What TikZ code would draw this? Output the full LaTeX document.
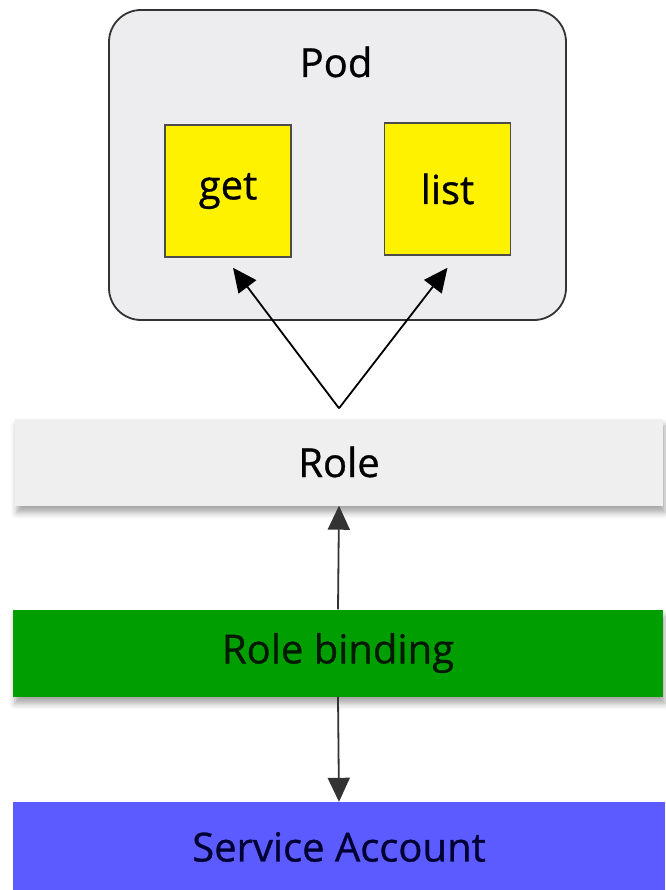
\documentclass[tikz,border=0pt]{standalone}
\usepackage{fontspec}
\setmainfont{Open Sans}[FakeBold=0.8]
\usetikzlibrary{
  positioning
  , calc
  , arrows.meta
  , shadows.blur
}

\definecolor{podgray}{HTML}{EDEDEF}
\definecolor{rolegray}{HTML}{EFEFEF}
\definecolor{bindgreen}{HTML}{009E00}
\definecolor{accblue}{HTML}{5B5BFF}

\begin{document}
\begin{tikzpicture}[x=1pt, y=-1pt]
      \tikzstyle{bar template}=[minimum height=87pt, inner sep=0pt, font=\fontsize{40}{44}\selectfont]
      \tikzstyle{verb template}=[draw=black!70, line width=1.5pt, fill=yellow, minimum width=126pt, minimum height=132pt, inner sep=0pt, font=\fontsize{40}{44}\selectfont]
      \tikzstyle{link}=[line width=1.8pt, -{Triangle[length=24pt, width=22pt]}]

      \useasboundingbox (0,0) rectangle (665,890);

      % the pod with its two verbs
      \node [draw=black!80, line width=1.8pt, rounded corners=32pt, fill=podgray, minimum width=457pt, minimum height=310pt] (pod) at (337.5,165){};
      \node [font=\fontsize{40}{44}\selectfont] (podlabel) at (336,62){Pod};
      \node [verb template] (get) at (228,191){get};
      \node [verb template] (list) at (447.5,189){list};

      % the three bars
      \node [bar template, fill=rolegray, minimum width=648pt, blur shadow={shadow xshift=2pt, shadow yshift=-7pt, shadow blur radius=6pt, shadow opacity=35}] (role) at (339,462){Role};
      \node [bar template, fill=bindgreen, text=black!90!green, minimum width=650pt, blur shadow={shadow xshift=2pt, shadow yshift=-7pt, shadow blur radius=6pt, shadow opacity=35}] (binding) at (338,653){Role binding};
      \node [bar template, fill=accblue, text=blue!20!black, minimum width=652pt, minimum height=90pt] (account) at (339,847){Service Account};

      \coordinate (fork) at ([yshift=10pt]role.north);
      \draw [link] (fork) -- ($(get.south)+(5,10)$);
      \draw [link] (fork) -- ($(list.south)+(0,12)$);

      \draw [link, draw=black!80] (binding.north) -- (role.south);
      \draw [link, draw=black!80] (binding.south) -- (account.north);

    \end{tikzpicture}
\end{document}
